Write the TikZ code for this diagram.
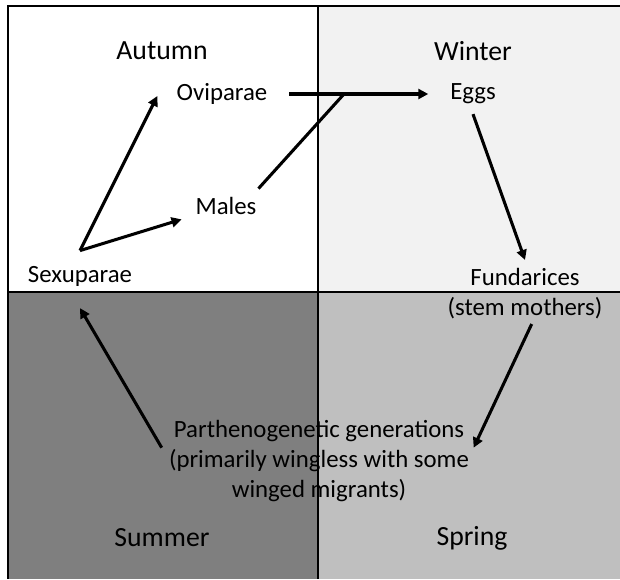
\documentclass[tikz,border=0pt]{standalone}
\usepackage{fontspec}
\setmainfont{Carlito}
\usetikzlibrary{arrows.meta,positioning}
\definecolor{winterGray}{HTML}{F2F2F2}
\definecolor{summerGray}{HTML}{7F7F7F}
\definecolor{springGray}{HTML}{BFBFBF}

\begin{document}
\begin{tikzpicture}[x=0.75pt,y=-0.75pt,font=\fontsize{18.6}{22.5}\selectfont]
      \useasboundingbox (0,0) rectangle (620,579);
      % season quarters
      \fill[winterGray] (318,6) rectangle (620,292);
      \fill[summerGray] (8,292) rectangle (318,579);
      \fill[springGray] (318,292) rectangle (620,579);
      \draw[line width=1.1pt] (620,6) -- (8,6) -- (8,579);
      \draw[line width=0.8pt] (318,6) -- (318,579);
      \draw[line width=0.8pt] (8,292) -- (620,292);
      \node[font=\fontsize{20.8}{24}\selectfont] (autumn) at (162,51) {Autumn};
      \node[font=\fontsize{20.8}{24}\selectfont] (winter) at (473,51) {Winter};
      \node[font=\fontsize{20.8}{24}\selectfont] (summer) at (162,538) {Summer};
      \node[font=\fontsize{20.8}{24}\selectfont] (spring) at (472,538) {Spring};
      % life stages
      \node (ovi) at (222,94) {Oviparae};
      \node (eggs) at (473,94) {Eggs};
      \node (males) at (226,206) {Males};
      \node (sexu) at (80,276) {Sexuparae};
      \node[align=center] (fund) at (525,294) {Fundarices\\(stem mothers)};
      \node[align=center] (parth) at (319,461)
        {Parthenogenetic generations\\(primarily wingless with some\\winged migrants)};
      \coordinate (fork) at ([yshift=8pt]sexu.north);
      \coordinate (join) at (344,94);
      \draw[-{Triangle[length=7.5pt,width=7.5pt]},line width=2.3pt] (fork) -- ([xshift=-11pt,yshift=-1.5pt]ovi.west);
      \draw[-{Triangle[length=7.5pt,width=7.5pt]},line width=2.3pt] (fork) -- ([xshift=-7pt,yshift=-10pt]males.west);
      \draw[-{Triangle[length=7.5pt,width=7.5pt]},line width=2.3pt] ([xshift=13pt]ovi.east) -- ([xshift=-13pt]eggs.west);
      \draw[line width=2.3pt] ([xshift=-2pt,yshift=3pt]males.north east) -- (join);
      \draw[-{Triangle[length=7.5pt,width=7.5pt]},line width=2.3pt] ([yshift=-4pt]eggs.south) -- ([yshift=3pt]fund.north);
      \draw[-{Triangle[length=7.5pt,width=7.5pt]},line width=2.3pt] ([xshift=5pt]fund.south) -- ([yshift=10pt]parth.east);
      \draw[-{Triangle[length=7.5pt,width=7.5pt]},line width=2.3pt] ([xshift=-2pt,yshift=10pt]parth.west) -- ([yshift=-13pt]sexu.south);
    \end{tikzpicture}
\end{document}
